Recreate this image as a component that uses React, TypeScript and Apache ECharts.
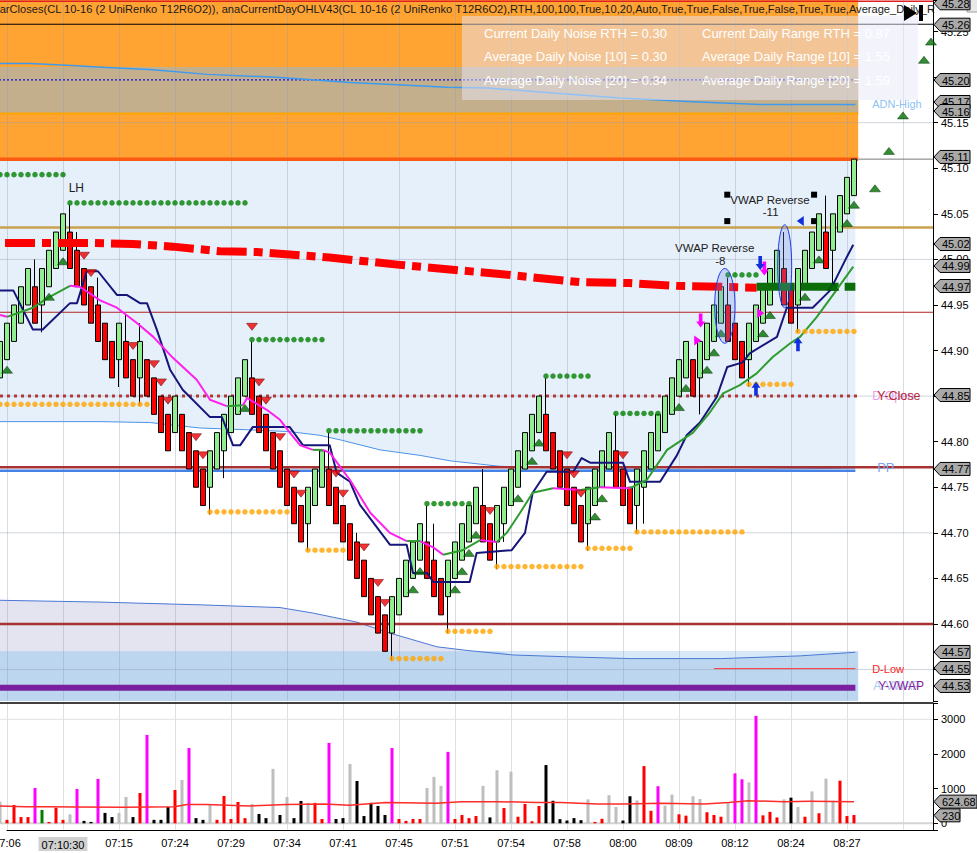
import React, { useEffect, useRef } from 'react';
import * as echarts from 'echarts';

const FONT = '"Liberation Sans", Arial, Helvetica, sans-serif';

const PRICE_MIN = 44.5155;
const PRICE_MAX = 45.2846;
const X_MIN = -7;
const AXIS_MIN = 1;
const X_MAX = 133.29;
const FILL_END = 122.6;
const VOL_MIN = -193;
const VOL_MAX = 3470;

const TITLE = 'barCloses(CL 10-16 (2 UniRenko T12R6O2)), anaCurrentDayOHLV43(CL 10-16 (2 UniRenko T12R6O2),RTH,100,100,True,10,20,Auto,True,True,False,True,False,True,True,Average_Daily_R';

const TIME_LABELS = ['07:06', '07:10:30', '07:15', '07:24', '07:29', '07:34', '07:41', '07:45', '07:51', '07:54', '07:58', '08:00', '08:09', '08:12', '08:24', '08:27'];

const OPEN = [44.87,44.89,44.91,44.93,44.95,44.97,44.95,44.97,44.99,45.01,
45.03,45.01,44.99,44.97,44.95,44.93,44.91,44.89,44.91,44.89,
44.87,44.89,44.87,44.85,44.83,44.81,44.83,44.81,44.79,44.77,
44.75,44.77,44.79,44.81,44.83,44.85,44.87,44.85,44.83,44.81,
44.79,44.77,44.75,44.73,44.71,44.73,44.75,44.77,44.75,44.73,
44.71,44.69,44.67,44.65,44.63,44.61,44.59,44.61,44.63,44.65,
44.67,44.69,44.67,44.65,44.63,44.65,44.67,44.69,44.71,44.73,
44.71,44.69,44.71,44.73,44.75,44.77,44.79,44.81,44.83,44.81,
44.79,44.77,44.75,44.73,44.71,44.73,44.75,44.77,44.79,44.77,
44.75,44.73,44.75,44.77,44.79,44.81,44.83,44.85,44.87,44.89,
44.87,44.89,44.91,44.93,44.95,44.93,44.91,44.89,44.91,44.93,
44.95,44.97,44.99,44.97,44.95,44.97,44.99,45.01,45.03,45.01,
45.03,45.05,45.07];
const CLOSE = [44.91,44.93,44.95,44.97,44.99,44.93,44.99,45.01,45.03,45.05,
44.99,44.97,44.95,44.93,44.91,44.89,44.87,44.93,44.87,44.85,
44.91,44.85,44.83,44.81,44.79,44.85,44.79,44.77,44.75,44.73,
44.79,44.81,44.83,44.85,44.87,44.89,44.83,44.81,44.79,44.77,
44.75,44.73,44.71,44.69,44.75,44.77,44.79,44.73,44.71,44.69,
44.67,44.65,44.63,44.61,44.59,44.57,44.63,44.65,44.67,44.69,
44.71,44.65,44.63,44.61,44.67,44.69,44.71,44.73,44.75,44.69,
44.67,44.73,44.75,44.77,44.79,44.81,44.83,44.85,44.79,44.77,
44.75,44.73,44.71,44.69,44.75,44.77,44.79,44.81,44.75,44.73,
44.71,44.77,44.79,44.81,44.83,44.85,44.87,44.89,44.91,44.85,
44.91,44.93,44.95,44.97,44.91,44.89,44.87,44.93,44.95,44.97,
44.99,45.01,44.95,44.93,44.99,45.01,45.03,45.05,44.99,45.05,
45.07,45.09,45.11];
const LOW = [44.85,44.89,44.91,44.93,44.95,44.93,44.92,44.97,44.99,45.01,
44.99,44.97,44.95,44.93,44.91,44.89,44.87,44.86,44.87,44.85,
44.84,44.85,44.83,44.81,44.79,44.81,44.79,44.77,44.75,44.73,
44.72,44.77,44.76,44.81,44.83,44.85,44.83,44.81,44.79,44.77,
44.75,44.73,44.71,44.69,44.68,44.73,44.75,44.73,44.71,44.69,
44.67,44.65,44.63,44.61,44.59,44.57,44.56,44.61,44.63,44.65,
44.67,44.65,44.63,44.61,44.59,44.65,44.67,44.69,44.71,44.69,
44.67,44.66,44.69,44.73,44.75,44.77,44.79,44.81,44.79,44.77,
44.75,44.73,44.71,44.69,44.68,44.73,44.75,44.77,44.75,44.73,
44.71,44.70,44.71,44.77,44.79,44.81,44.83,44.85,44.87,44.85,
44.83,44.89,44.91,44.93,44.91,44.89,44.87,44.86,44.91,44.93,
44.95,44.97,44.95,44.93,44.92,44.97,44.99,45.01,44.99,44.97,
45.03,45.05,45.07];
const HIGH = [44.91,44.93,44.95,44.97,44.99,45.00,44.99,45.01,45.03,45.05,
45.06,45.03,44.99,44.97,44.98,44.93,44.91,44.93,44.94,44.89,
44.93,44.89,44.87,44.85,44.83,44.85,44.83,44.81,44.79,44.77,
44.79,44.81,44.83,44.85,44.87,44.89,44.91,44.85,44.83,44.81,
44.79,44.77,44.75,44.73,44.75,44.77,44.79,44.81,44.75,44.73,
44.71,44.70,44.67,44.65,44.63,44.61,44.63,44.65,44.67,44.69,
44.71,44.73,44.71,44.65,44.67,44.69,44.71,44.73,44.75,44.77,
44.71,44.73,44.75,44.77,44.79,44.81,44.83,44.85,44.87,44.81,
44.79,44.77,44.75,44.73,44.75,44.77,44.79,44.81,44.83,44.77,
44.75,44.77,44.79,44.81,44.83,44.85,44.87,44.89,44.91,44.89,
44.91,44.93,44.95,44.97,44.98,44.93,44.91,44.93,44.95,44.97,
44.99,45.01,45.03,44.97,44.99,45.01,45.03,45.05,45.07,45.05,
45.07,45.09,45.11];

const VOLUME = [625,100,530,180,180,1020,385,40,450,100,
260,990,70,40,1280,300,180,300,760,180,
875,2550,100,100,470,960,1250,2170,150,100,
530,100,790,125,615,150,560,270,150,1570,
240,760,150,645,590,590,125,2320,125,150,
1710,1220,210,590,500,240,2170,125,70,125,
125,1020,1340,1080,2060,125,240,150,210,1080,
170,1530,440,1490,190,560,60,500,1680,650,
120,80,150,90,690,40,130,810,470,80,
780,660,1650,360,1070,510,830,260,220,780,
700,320,240,190,580,1440,1270,1180,3100,230,
330,170,690,740,470,190,920,290,1290,650,
1230,210,240];
// g = gray, r = red, m = magenta, k = black, G = green
const VOLUME_KIND = ['g','r','r','r','r','m','G','r','r','r',
'g','m','k','k','m','k','k','g','g','k',
'r','m','k','k','k','r','g','m','k','k',
'g','r','r','r','r','r','g','k','k','g',
'k','g','k','k','g','r','r','m','k','k',
'g','k','k','k','k','k','m','r','r','r',
'r','g','g','g','m','r','r','r','r','g',
'k','g','r','g','r','r','r','r','k','k',
'k','k','k','k','g','r','r','g','g','k',
'k','g','r','r','m','g','g','r','r','g',
'g','r','r','r','g','m','m','g','m','r',
'r','r','g','k','g','r','g','r','g','g',
'r','r','r'];

const VOLUME_MA = [[0,500],[3.6,480],[7.1,480],[10.7,470],[17.8,460],[24.9,480],[26.7,540],[29.4,540],[35.6,500],[41,540],[46.3,560],[49.9,520],[55.1,600],[62.3,580],[65.9,625],[71.1,625],[76.6,600],[80.1,600],[85.4,560],[89,560],[94.3,580],[100.6,560],[104.1,600],[106.9,650],[112.1,625],[115.7,635],[122,625]];

const NAVY_LINE = [[0,44.966],[1.9,44.966],[4.7,44.923],[6.1,44.923],[10,44.952],[11,44.952],[12.4,44.987],[14,44.987],[16.7,44.961],[18.1,44.961],[20,44.952],[21,44.952],[22.4,44.923],[24.3,44.879],[26.1,44.857],[30,44.827],[31.7,44.827],[33.3,44.796],[34.3,44.796],[36.1,44.816],[41.4,44.816],[43.3,44.796],[47.1,44.796],[48.1,44.766],[50,44.756],[51.4,44.731],[55.7,44.687],[58.1,44.687],[59,44.656],[61,44.656],[61.9,44.646],[67.1,44.646],[68.1,44.678],[73.1,44.681],[75,44.700],[76.1,44.744],[78.1,44.767],[81.9,44.767],[83.1,44.782],[84.3,44.777],[89,44.777],[90,44.756],[94.3,44.756],[96.7,44.785],[98.1,44.807],[100,44.821],[102.4,44.849],[103.9,44.882],[106.1,44.887],[107.1,44.897],[111,44.915],[112.4,44.947],[116.1,44.947],[118.6,44.966],[121,45.003],[121.9,45.016]];

// [x, price, colour of the segment that starts here: m = falling, g = rising]
const MA_LINE = [[0,44.939,'m'],[1,44.937,'g'],[4.7,44.947,'g'],[7.1,44.959,'g'],[10,44.971,'m'],[11.4,44.970,'m'],[14.3,44.955,'m'],[16.7,44.947,'m'],[19.6,44.930,'m'],[21.9,44.915,'m'],[24.7,44.892,'m'],[28.1,44.868,'m'],[30,44.846,'m'],[32.4,44.839,'g'],[34.7,44.840,'m'],[35.3,44.848,'m'],[38.1,44.835,'m'],[40,44.824,'m'],[41.4,44.810,'m'],[42.9,44.796,'m'],[44.7,44.791,'g'],[46.1,44.791,'m'],[47.1,44.788,'m'],[50,44.758,'m'],[52.9,44.722,'m'],[55.7,44.700,'m'],[58.1,44.691,'g'],[60,44.691,'m'],[61.9,44.684,'m'],[63.3,44.676,'g'],[66.1,44.681,'g'],[68.6,44.692,'m'],[71,44.690,'g'],[72.4,44.700,'g'],[74.3,44.722,'g'],[76.1,44.744,'g'],[79,44.749,'m'],[82.9,44.747,'g'],[85.7,44.750,'m'],[90,44.749,'g'],[92.4,44.758,'g'],[95.3,44.791,'g'],[99,44.810,'g'],[101.4,44.832,'g'],[103.3,44.853,'g'],[105.7,44.862,'g'],[108.1,44.875,'g'],[110.4,44.893,'g'],[112.9,44.908,'g'],[114.3,44.915,'g'],[116.7,44.937,'g'],[119,44.961,'g'],[121.9,44.992,'g']];

const VWAP_RED = [[0,45.018],[12.9,45.018],[19,45.017],[24.7,45.014],[31.4,45.009],[36.7,45.008],[43.9,45.004],[47.1,45.002],[57.1,44.994],[71.4,44.984],[82.9,44.975],[90,44.974],[96.7,44.971],[108.1,44.969]];
const VWAP_GREEN = [[108.1,44.970],[122.2,44.970]];

const UPPER_BAND = [[0,44.822],[14.3,44.822],[21.4,44.821],[28.6,44.815],[35.7,44.813],[41.4,44.811],[45.7,44.807],[48.6,44.802],[54.3,44.791],[60,44.785],[64.3,44.779],[71.4,44.773],[80,44.771],[85.7,44.770],[100,44.769],[122.2,44.771]];
const LOWER_BAND = [[0,44.626],[14.3,44.624],[28.6,44.621],[40,44.618],[44.7,44.612],[51,44.602],[55.7,44.590],[62.4,44.575],[66.7,44.571],[73.3,44.566],[81,44.564],[90,44.562],[102.9,44.562],[114.3,44.565],[122.2,44.569]];
const ADN_HIGH = [[0,45.215],[4.3,45.215],[9.6,45.213],[13.9,45.211],[21.9,45.208],[29.6,45.203],[39,45.200],[50,45.194],[56.1,45.192],[63.9,45.189],[69.6,45.188],[80,45.182],[88.6,45.177],[99,45.173],[108.6,45.170],[122.2,45.170]];

// [first bar, last bar, price]
const GREEN_DOTS = [[0,9,45.093],[10,35,45.062],[36,46,44.912],[47,60,44.812],[61,67,44.732],[78,84,44.872],[88,94,44.831],[104,108,44.983]];
const ORANGE_DOTS = [[0,21,44.841],[30,41,44.723],[44,49,44.681],[56,63,44.562],[64,70,44.592],[71,83,44.663],[84,90,44.683],[91,106,44.701],[107,113,44.863],[114,122,44.921]];

const GREEN_TRI = [[1,44.879],[7,44.959],[9,44.998],[35,44.837],[59,44.638],[60,44.658],[65,44.638],[66,44.658],[67,44.678],[68,44.698],[74,44.738],[76,44.779],[77,44.799],[85,44.718],[86,44.738],[97,44.838],[98,44.859],[101,44.879],[102,44.898],[103,44.919],[109,44.919],[110,44.939],[115,44.959],[117,45.0],[119,44.97],[121,45.04],[122,45.06],[125,45.078],[127,45.119],[129,45.158],[132,45.219],[133,45.239]];
const RED_TRI = [[12,45.004],[13,44.985],[19,44.905],[22,44.885],[23,44.865],[24,44.845],[28,44.805],[29,44.785],[36,44.926],[37,44.865],[38,44.845],[40,44.805],[42,44.764],[43,44.743],[48,44.765],[49,44.743],[52,44.684],[54,44.645],[55,44.623],[70,44.724],[81,44.785],[82,44.764],[83,44.743],[89,44.785]];

const GRID_PRICES = [45.15, 45.0, 44.85, 44.7, 44.55];
const LEVEL = { top: 45.258, dotted: 45.197, orange: 45.16, band: 45.11, gold: 45.035, red1: 44.942, yClose: 44.85, pp: 44.772, ppBlue: 44.768, s1: 44.60, dLow: 44.551, dLowFrom: 102, yVwap: 44.53, tanTop: 45.211, zone: 44.57 };

const PRICE_FLAGS = [[45.281,'45.28'],[45.2575,'45.26'],[45.1968,'45.20'],[45.1727,'45.17'],[45.1628,'45.16'],[45.1124,'45.11'],[45.0169,'45.02'],[44.9928,'44.99'],[44.9708,'44.97'],[44.8512,'44.85'],[44.7701,'44.77'],[44.5693,'44.57'],[44.5517,'44.55'],[44.532,'44.53']];
const VOLUME_FLAGS = [[624.68,'624.68'],[230,'230']];

const NOTES = [[10.9,45.078,'LH'],[102.1,45.012,'VWAP Reverse'],[102.9,44.998,'-8'],[110,45.065,'VWAP Reverse'],[110.1,45.052,'-11']];
const SQUARES = [[103.9,45.071],[103.9,45.042],[116.3,45.071],[116.3,45.042]];
const ELLIPSES = [[102.1,105,44.990,44.908],[111.1,113.1,45.038,44.947]];
const ARROWS = [[100.1,44.933,'down','#FF00FF'],[109.2,44.99,'down','#FF00FF'],[108.6,44.996,'down','#1030E0'],[108,44.858,'up','#1030E0'],[114,44.907,'up','#1030E0']];
const POINTERS = [[99.6,44.911,'right','#FF00FF'],[108.6,44.941,'right','#FF00FF'],[114.4,45.042,'left','#1030E0']];

const INFO = [['Current Daily Noise RTH = 0.30','Current Daily Range RTH = 0.87'],['Average Daily Noise [10] = 0.30','Average Daily Range [10] = 1.55'],['Average Daily Noise [20] = 0.34','Average Daily Range [20] = 1.59']];

const VOL_COLORS: any = { g: '#BEBEBE', r: '#FF0000', m: '#FF00FF', k: '#000000', G: '#008000' };

function customLines(z: number, items: any[], axisIndex = 0) {
  return {
    type: 'custom', xAxisIndex: axisIndex, yAxisIndex: axisIndex, z, silent: true, clip: false, data: [[10, axisIndex === 0 ? 45 : 100]],
    renderItem: (params: any, api: any) => ({
      type: 'group',
      children: items.map((it) => ({ type: 'polyline', shape: { points: it.pts.map((p: number[]) => api.coord([p[0], p[1]])) }, style: { fill: null, lineCap: 'butt', lineJoin: 'round', ...it.style } })),
    }),
  };
}
const hl = (y: number, x1: number, x2: number, stroke: string, lineWidth: number, lineDash: any = null) => ({ pts: [[x1, y], [x2, y]], style: { stroke, lineWidth, lineDash } });

function buildOption() {
  const candleData = OPEN.map((o, i) => [i, o, CLOSE[i], LOW[i], HIGH[i]]);
  const volData = VOLUME.map((v, i) => ({ value: [i, v], itemStyle: { color: VOL_COLORS[VOLUME_KIND[i]] } }));
  const dots = (levels: number[][]) => {
    const out: number[][] = [];
    levels.forEach(([a, b, p]) => { for (let i = a; i <= b; i++) out.push([i, p]); });
    return out;
  };
  const maSegs: any[] = [];
  let seg: any[] = [];
  let segColor = MA_LINE[0][2];
  for (let k = 0; k < MA_LINE.length; k++) {
    const pt = [MA_LINE[k][0], MA_LINE[k][1]];
    seg.push(pt);
    const nextColor = MA_LINE[k][2];
    if (k > 0 && nextColor !== segColor) {
      maSegs.push({ pts: seg, style: { stroke: segColor === 'g' ? '#2E9B2E' : '#FF1EF0', lineWidth: 2 } });
      seg = [pt];
      segColor = nextColor;
    }
  }
  if (seg.length > 1) maSegs.push({ pts: seg, style: { stroke: segColor === 'g' ? '#2E9B2E' : '#FF1EF0', lineWidth: 2 } });

  const series: any[] = [];
  series.push({
    type: 'custom', xAxisIndex: 0, yAxisIndex: 0, z: 0, silent: true, clip: false, data: [[10, 45]],
    renderItem: (params: any, api: any) => {
      const c = (x: number, y: number) => api.coord([x, y]);
      const rect = (x1: number, x2: number, y1: number, y2: number, fill: string) => ({ type: 'polygon', shape: { points: [c(x1, y1), c(x2, y1), c(x2, y2), c(x1, y2)] }, style: { fill } });
      const up = UPPER_BAND.map(([x, y]) => c(x, y));
      const lo = LOWER_BAND.map(([x, y]) => c(x, y));
      const upLast = UPPER_BAND[UPPER_BAND.length - 1][0];
      const loLast = LOWER_BAND[LOWER_BAND.length - 1][0];
      const paleRaw = LOWER_BAND.filter(([, y]) => y < LEVEL.zone);
      const pale = [c(paleRaw[0][0] - 2, LEVEL.zone), ...paleRaw.map(([x, y]) => c(x, y)), c(loLast, LEVEL.zone)];
      return {
        type: 'group',
        children: [
          { type: 'polygon', shape: { points: [c(0, LEVEL.band), c(upLast, LEVEL.band), ...up.slice().reverse()] }, style: { fill: '#E6F0FB' } },
          rect(X_MIN, FILL_END, LEVEL.band, PRICE_MAX, '#FFA333'),
          rect(X_MIN, FILL_END, LEVEL.orange, LEVEL.tanTop, '#C3AF8C'),
          { type: 'polygon', shape: { points: [...lo, c(loLast, PRICE_MIN), c(0, PRICE_MIN)] }, style: { fill: '#E4E4F0' } },
          rect(X_MIN, FILL_END, PRICE_MIN, LEVEL.zone, '#BDD6EF'),
          { type: 'polygon', shape: { points: pale }, style: { fill: '#D7E9F9' } },
          { type: 'polyline', shape: { points: up }, style: { stroke: '#4D94E6', lineWidth: 1, fill: null } },
          { type: 'polyline', shape: { points: lo }, style: { stroke: '#4A78D6', lineWidth: 1, fill: null } },
        ],
      };
    },
  });

  series.push(customLines(1.2, GRID_PRICES.map((p) => hl(p, X_MIN, X_MAX, 'rgba(150,160,178,0.45)', 1))));
  series.push(customLines(1.5, [
    hl(LEVEL.top, X_MIN, X_MAX, '#000000', 1),
    hl(LEVEL.dotted, X_MIN, 122.2, '#1212E6', 1.2, [2, 2]),
    hl(LEVEL.orange, X_MIN, FILL_END, '#FFA500', 2),
    hl(LEVEL.band, X_MIN, FILL_END, '#FF5A14', 3.5),
    hl(LEVEL.band, FILL_END, X_MAX, '#7A7A7A', 1),
    hl(LEVEL.gold, X_MIN, X_MAX, '#C8A24E', 2.5),
    hl(LEVEL.red1, X_MIN, X_MAX, '#B22222', 1),
    hl(LEVEL.yClose, X_MIN, FILL_END, '#B03A3A', 3, [3, 4]),
    hl(LEVEL.ppBlue, X_MIN, 122.2, '#4682E6', 2.5),
    hl(LEVEL.pp, X_MIN, X_MAX, '#A83232', 2.5),
    hl(LEVEL.s1, X_MIN, X_MAX, '#A83232', 2.5),
    hl(LEVEL.dLow, LEVEL.dLowFrom, 122.2, '#FF3030', 1),
    hl(LEVEL.yVwap, X_MIN, 122.2, '#7A1FA0', 6),
    { pts: ADN_HIGH, style: { stroke: '#3C9BF0', lineWidth: 1.5 } },
  ]));

  series.push({
    type: 'candlestick', xAxisIndex: 0, yAxisIndex: 0, data: candleData, encode: { x: 0, y: [1, 2, 3, 4] }, barWidth: 5, z: 3, clip: false,
    itemStyle: { color: '#90EE90', color0: '#FF0000', borderColor: '#000000', borderColor0: '#000000', borderWidth: 1 },
  });

  series.push(customLines(3.5, [
    { pts: VWAP_RED, style: { stroke: '#FF0000', lineWidth: 8, lineDash: [30, 7, 9, 7], lineDashOffset: -5 } },
    { pts: VWAP_GREEN, style: { stroke: '#0B6E0B', lineWidth: 8, lineDash: [38, 6] } },
  ]));
  series.push(customLines(4, [{ pts: NAVY_LINE, style: { stroke: '#16167A', lineWidth: 2 } }, ...maSegs]));

  const scat = (data: any, z: number, extra: any) => ({ type: 'scatter', xAxisIndex: 0, yAxisIndex: 0, data, z, silent: true, clip: false, ...extra });
  series.push(scat(dots(GREEN_DOTS), 5, { symbol: 'circle', symbolSize: 5.5, itemStyle: { color: '#008000' } }));
  series.push(scat(dots(ORANGE_DOTS), 5, { symbol: 'circle', symbolSize: 5.5, itemStyle: { color: '#FFA500' } }));
  series.push(scat(GREEN_TRI, 5, { symbol: 'triangle', symbolSize: [11, 7], itemStyle: { color: '#007000', borderColor: '#003000', borderWidth: 0.6 } }));
  series.push(scat(RED_TRI, 5, { symbol: 'triangle', symbolRotate: 180, symbolSize: [11, 7], itemStyle: { color: '#F00000', borderColor: '#600000', borderWidth: 0.6 } }));

  series.push(customLines(1, [
    { pts: [[X_MIN, 0], [X_MAX, 0]], style: { stroke: '#D4D4D4', lineWidth: 2 } },
    { pts: [[X_MIN, 3000], [X_MAX, 3000]], style: { stroke: '#E2E2E2', lineWidth: 1 } },
  ], 1));
  series.push({ type: 'bar', xAxisIndex: 1, yAxisIndex: 1, data: volData, barWidth: 3, z: 2, silent: true, clip: false });
  series.push(customLines(3, [{ pts: VOLUME_MA, style: { stroke: '#FF2A2A', lineWidth: 1.5 } }], 1));

  const xLabel = (v: number) => {
    const k = Math.round((v - 1) / 8);
    if (k < 0 || k >= TIME_LABELS.length || Math.abs(v - (1 + 8 * k)) > 1e-6) return '';
    return k === 1 ? `{hl|${TIME_LABELS[k]}}` : TIME_LABELS[k];
  };

  return {
    animation: false,
    backgroundColor: '#FFFFFF',
    grid: [
      { left: 7, right: 44, top: 0, height: 701, containLabel: false, outerBoundsMode: 'none' },
      { left: 7, right: 44, top: 703, height: 127, containLabel: false, outerBoundsMode: 'none' },
    ],
    xAxis: [
      { type: 'value', gridIndex: 0, min: AXIS_MIN, max: X_MAX, interval: 8, z: 1, axisLine: { show: false }, axisTick: { show: false }, axisLabel: { show: false }, splitLine: { show: true, lineStyle: { color: 'rgba(140,155,178,0.35)', width: 1 } } },
      {
        type: 'value', gridIndex: 1, min: AXIS_MIN, max: X_MAX, interval: 8, z: 1,
        axisLine: { show: true, onZero: false, lineStyle: { color: '#000000', width: 1 } }, axisTick: { show: false },
        axisLabel: { formatter: xLabel, color: '#000000', fontSize: 11, fontFamily: FONT, margin: 7, alignMinLabel: 'center', alignMaxLabel: 'center', rich: { hl: { backgroundColor: '#D0D0D0', padding: [2, 3, 1, 3], fontSize: 11, fontFamily: FONT, color: '#000000' } } },
        splitLine: { show: true, lineStyle: { color: '#E0E0E0', width: 1 } },
      },
    ],
    yAxis: [
      {
        type: 'value', gridIndex: 0, position: 'right', min: PRICE_MIN, max: PRICE_MAX, splitNumber: 15, z: 1,
        axisLine: { show: true, onZero: false, lineStyle: { color: '#000000', width: 1 } }, axisTick: { show: true, length: 5, lineStyle: { color: '#000000' } },
        axisLabel: { color: '#000000', fontSize: 11, fontFamily: FONT, margin: 8, formatter: (v: number) => (Math.abs(v * 20 - Math.round(v * 20)) < 1e-4 ? v.toFixed(2) : '') },
        splitLine: { show: false },
      },
      {
        type: 'value', gridIndex: 1, position: 'right', min: VOL_MIN, max: VOL_MAX, splitNumber: 4, z: 1,
        axisLine: { show: true, onZero: false, lineStyle: { color: '#000000', width: 1 } }, axisTick: { show: true, length: 5, lineStyle: { color: '#000000' } },
        axisLabel: { color: '#000000', fontSize: 11, fontFamily: FONT, margin: 8, formatter: (v: number) => (v >= 0 && Math.abs(v / 1000 - Math.round(v / 1000)) < 1e-6 ? String(Math.round(v)) : '') },
        splitLine: { show: false },
      },
    ],
    series,
  };
}

function buildGraphics(chart: any) {
  const P = (x: number, y: number) => chart.convertToPixel({ gridIndex: 0 }, [x, y]);
  const V = (x: number, v: number) => chart.convertToPixel({ gridIndex: 1 }, [x, v]);
  const axisX = P(X_MAX, PRICE_MAX)[0];
  const fillEndX = P(FILL_END, PRICE_MAX)[0];
  const g: any[] = [];
  const txt = (x: number, y: number, text: string, size: number, fill: string, align = 'left', extra: any = {}) => ({ type: 'text', x, y, silent: true, style: { text, fontSize: size, fontFamily: FONT, fill, align, verticalAlign: 'middle', ...extra } });

  g.push({ type: 'line', silent: true, shape: { x1: 0, y1: 1.2, x2: axisX, y2: 1.2 }, style: { stroke: '#E02020', lineWidth: 1.5 } });
  g.push(txt(-6.5, 8.5, TITLE, 11.1, '#1A1A1A'));

  g.push({ type: 'rect', silent: true, shape: { x: 462, y: 16, width: 456, height: 84 }, style: { fill: 'rgba(232,232,250,0.5)' } });
  INFO.forEach((row, r) => {
    g.push(txt(484, 33 + r * 23.5, row[0], 13, '#FFFFFF'));
    g.push(txt(702, 33 + r * 23.5, row[1], 13, '#FFFFFF'));
  });

  g.push({ type: 'polygon', silent: true, shape: { points: [[904, 5], [904, 21], [917, 13]] }, style: { fill: '#000000' } });
  g.push({ type: 'rect', silent: true, shape: { x: 919, y: 5, width: 4, height: 16 }, style: { fill: '#000000' } });
  g.push({ type: 'rect', silent: true, shape: { x: 967, y: -2, width: 12, height: 14 }, style: { fill: '#E8E8E8', stroke: '#A0A0A0', lineWidth: 1 } });

  const sepY = V(0, VOL_MAX)[1];
  g.push({ type: 'line', silent: true, shape: { x1: 0, y1: sepY, x2: axisX, y2: sepY }, style: { stroke: '#000000', lineWidth: 1.5 } });

  const ly = (p: number) => P(0, p)[1];
  g.push(txt(fillEndX + 14, ly(45.171), 'ADN-High', 11, '#8EC2F5'));
  g.push(txt(fillEndX + 19, ly(44.772), 'PP', 13, '#7BA6E6'));
  g.push(txt(fillEndX + 14, ly(44.85), 'D-Open', 12, '#E8A0E8'));
  g.push(txt(fillEndX + 19, ly(44.85), 'Y-Close', 12.5, '#B02A3A'));
  g.push(txt(fillEndX + 14, ly(44.551), 'D-Low', 11, '#FF1A1A'));
  g.push(txt(fillEndX + 15, ly(44.532), 'A-VWAP', 12, '#A8CCF2'));
  g.push(txt(fillEndX + 20, ly(44.532), 'Y-VWAP', 12, '#8B1A9A'));

  NOTES.forEach(([x, y, t]: any) => { const p = P(x, y); g.push(txt(p[0], p[1], t, t === 'LH' ? 12 : 11.5, '#202020', 'center')); });
  SQUARES.forEach(([x, y]) => { const p = P(x, y); g.push({ type: 'rect', silent: true, shape: { x: p[0] - 3, y: p[1] - 3, width: 6, height: 6 }, style: { fill: '#000000' } }); });
  ELLIPSES.forEach(([x1, x2, y1, y2]) => {
    const a = P(x1, y1); const b = P(x2, y2);
    g.push({ type: 'ellipse', silent: true, shape: { cx: (a[0] + b[0]) / 2, cy: (a[1] + b[1]) / 2, rx: Math.abs(b[0] - a[0]) / 2, ry: Math.abs(b[1] - a[1]) / 2 }, style: { fill: 'rgba(110,140,230,0.28)', stroke: '#1E3CE6', lineWidth: 1 } });
  });
  ARROWS.forEach(([x, y, dir, color]: any) => {
    const [cx, cy] = P(x, y);
    const s = dir === 'down' ? 1 : -1;
    const pts = [[cx - 1.8, cy - 7 * s], [cx + 1.8, cy - 7 * s], [cx + 1.8, cy + 1 * s], [cx + 4.5, cy + 1 * s], [cx, cy + 7 * s], [cx - 4.5, cy + 1 * s], [cx - 1.8, cy + 1 * s]];
    g.push({ type: 'polygon', silent: true, shape: { points: pts }, style: { fill: color } });
  });
  POINTERS.forEach(([x, y, dir, color]: any) => {
    const [cx, cy] = P(x, y);
    const s = dir === 'right' ? 1 : -1;
    g.push({ type: 'polygon', silent: true, shape: { points: [[cx - 3 * s, cy - 5], [cx + 4 * s, cy], [cx - 3 * s, cy + 5]] }, style: { fill: color } });
  });

  const flag = (y: number, label: string, right: number) => {
    g.push({ type: 'polygon', silent: true, shape: { points: [[axisX + 1, y], [axisX + 7, y - 6.5], [right, y - 6.5], [right, y + 6.5], [axisX + 7, y + 6.5]] }, style: { fill: '#A9A9A9', stroke: '#000000', lineWidth: 1 } });
    g.push(txt(axisX + 9, y + 0.5, label, 11, '#000000'));
  };
  PRICE_FLAGS.forEach(([p, t]: any) => flag(P(0, p)[1], t, 970));
  VOLUME_FLAGS.forEach(([v, t]: any) => flag(V(0, v)[1], t, t.length > 4 ? 977 : 960));

  return g.map((e) => ({ ...e, z: 100 }));
}

export default function App() {
  const ref = useRef<HTMLDivElement>(null);
  useEffect(() => {
    const el = ref.current as HTMLDivElement;
    const chart = echarts.init(el, null, { renderer: 'svg' });
    chart.setOption(buildOption() as any);
    chart.setOption({ graphic: { elements: buildGraphics(chart) } } as any);
    return () => chart.dispose();
  }, []);
  return <div ref={ref} style={{ position: 'fixed', left: 0, top: 0, width: 977, height: 853, background: '#FFFFFF' }} />;
}
